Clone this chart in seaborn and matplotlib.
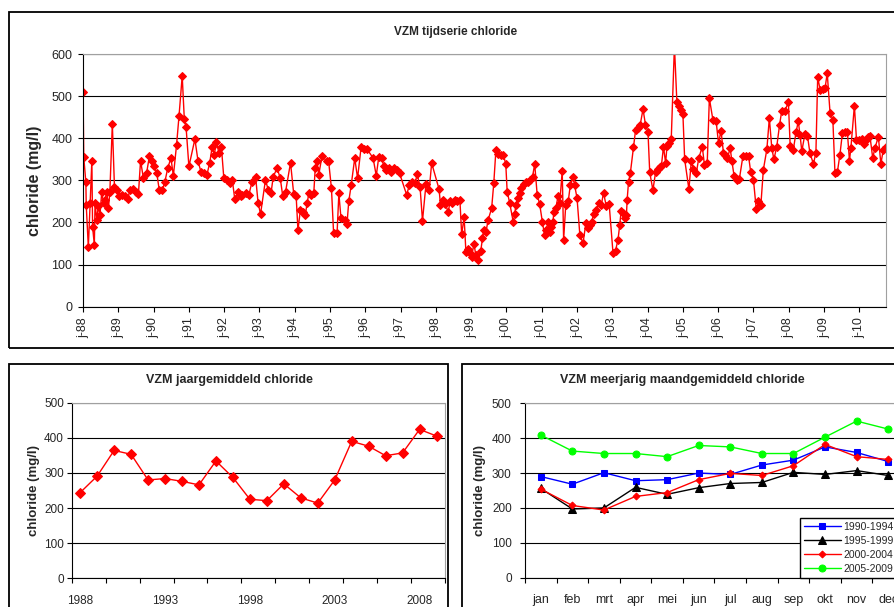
import numpy as np
import pandas as pd
import matplotlib.pyplot as plt
import seaborn as sns
from matplotlib.patches import Rectangle

sns.set_style("white")
plt.rcParams['font.family'] = ['Liberation Sans', 'DejaVu Sans']

# ---- tijdserie: datum (decimaal jaar) en chloride (mg/l) ----
t_serie = [
    1988.00, 1988.02, 1988.08, 1988.09, 1988.15, 1988.20, 1988.25, 1988.27, 1988.32, 1988.34,
    1988.39, 1988.43, 1988.48, 1988.53, 1988.58, 1988.62, 1988.67, 1988.72, 1988.76, 1988.83,
    1988.89, 1988.95, 1989.02, 1989.09, 1989.19, 1989.26, 1989.33, 1989.42, 1989.49, 1989.57,
    1989.63, 1989.71, 1989.80, 1989.88, 1989.94, 1990.02, 1990.09, 1990.16, 1990.25, 1990.32,
    1990.40, 1990.49, 1990.56, 1990.65, 1990.72, 1990.81, 1990.87, 1990.92, 1991.00, 1991.17,
    1991.26, 1991.34, 1991.43, 1991.51, 1991.59, 1991.66, 1991.72, 1991.78, 1991.85, 1991.92,
    1991.99, 1992.07, 1992.16, 1992.23, 1992.30, 1992.40, 1992.49, 1992.51, 1992.63, 1992.70,
    1992.79, 1992.89, 1992.96, 1993.03, 1993.17, 1993.25, 1993.33, 1993.39, 1993.50, 1993.59,
    1993.66, 1993.74, 1993.88, 1993.97, 1994.04, 1994.09, 1994.16, 1994.24, 1994.30, 1994.35,
    1994.40, 1994.47, 1994.54, 1994.58, 1994.63, 1994.68, 1994.77, 1994.90, 1994.96, 1995.04,
    1995.10, 1995.20, 1995.25, 1995.31, 1995.41, 1995.48, 1995.53, 1995.60, 1995.70, 1995.78,
    1995.88, 1995.95, 1996.05, 1996.22, 1996.31, 1996.38, 1996.47, 1996.52, 1996.58, 1996.66,
    1996.74, 1996.80, 1996.90, 1996.97, 1997.17, 1997.25, 1997.31, 1997.41, 1997.47, 1997.55,
    1997.62, 1997.72, 1997.81, 1997.88, 1998.09, 1998.13, 1998.21, 1998.27, 1998.35, 1998.40,
    1998.47, 1998.54, 1998.60, 1998.68, 1998.73, 1998.80, 1998.85, 1998.92, 1998.96, 1999.01,
    1999.08, 1999.13, 1999.20, 1999.27, 1999.32, 1999.36, 1999.42, 1999.48, 1999.58, 1999.64,
    1999.70, 1999.76, 1999.84, 1999.91, 1999.98, 2000.02, 2000.09, 2000.19, 2000.24, 2000.26,
    2000.33, 2000.38, 2000.42, 2000.49, 2000.55, 2000.61, 2000.68, 2000.74, 2000.80, 2000.87,
    2000.94, 2001.02, 2001.08, 2001.13, 2001.18, 2001.23, 2001.27, 2001.32, 2001.34, 2001.40,
    2001.46, 2001.51, 2001.58, 2001.62, 2001.68, 2001.75, 2001.81, 2001.89, 2001.93, 2002.00,
    2002.08, 2002.17, 2002.25, 2002.31, 2002.36, 2002.41, 2002.47, 2002.55, 2002.62, 2002.69,
    2002.75, 2002.83, 2002.91, 2003.02, 2003.09, 2003.16, 2003.21, 2003.25, 2003.30, 2003.35,
    2003.40, 2003.42, 2003.46, 2003.51, 2003.60, 2003.66, 2003.73, 2003.79, 2003.87, 2003.94,
    2004.01, 2004.06, 2004.15, 2004.23, 2004.29, 2004.34, 2004.39, 2004.45, 2004.51, 2004.55,
    2004.60, 2004.67, 2004.76, 2004.83, 2004.89, 2004.95, 2005.00, 2005.05, 2005.17, 2005.24,
    2005.30, 2005.38, 2005.45, 2005.55, 2005.61, 2005.69, 2005.75, 2005.85, 2005.94, 2006.01,
    2006.08, 2006.15, 2006.20, 2006.26, 2006.34, 2006.39, 2006.45, 2006.53, 2006.60, 2006.70,
    2006.79, 2006.86, 2006.92, 2007.00, 2007.08, 2007.14, 2007.21, 2007.28, 2007.38, 2007.45,
    2007.52, 2007.58, 2007.66, 2007.74, 2007.80, 2007.88, 2007.99, 2008.04, 2008.13, 2008.21,
    2008.27, 2008.32, 2008.37, 2008.46, 2008.53, 2008.60, 2008.70, 2008.77, 2008.82, 2008.89,
    2008.96, 2009.03, 2009.09, 2009.17, 2009.25, 2009.31, 2009.38, 2009.45, 2009.52, 2009.59,
    2009.66, 2009.72, 2009.76, 2009.86, 2009.92, 2010.00, 2010.07, 2010.13, 2010.19, 2010.25,
    2010.30, 2010.38, 2010.44, 2010.54, 2010.61, 2010.68, 2010.75]
cl_serie = [
    510, 355, 295, 242, 141, 246, 347, 190, 147, 246,
    206, 238, 218, 273, 246, 254, 273, 234, 273, 434,
    285, 277, 262, 265, 262, 255, 277, 279, 273, 268,
    347, 305, 317, 357, 345, 333, 317, 277, 277, 297,
    329, 353, 311, 384, 453, 548, 445, 426, 333, 398,
    345, 321, 317, 313, 342, 380, 361, 392, 365, 380,
    305, 301, 293, 301, 255, 273, 262, 266, 269, 266,
    297, 309, 247, 220, 301, 277, 271, 309, 329, 305,
    262, 273, 342, 268, 262, 182, 230, 226, 218, 246,
    269, 266, 271, 329, 345, 313, 357, 347, 345, 281,
    176, 176, 269, 210, 206, 196, 250, 289, 353, 305,
    379, 374, 374, 353, 311, 355, 353, 334, 325, 329,
    321, 329, 325, 317, 266, 289, 297, 293, 315, 285,
    204, 292, 277, 341, 279, 242, 254, 244, 224, 250,
    246, 254, 252, 254, 172, 212, 131, 136, 127, 119,
    149, 123, 111, 132, 162, 182, 178, 206, 234, 293,
    371, 363, 361, 361, 339, 273, 247, 202, 220, 242,
    258, 269, 281, 292, 295, 297, 301, 309, 339, 266,
    244, 200, 170, 182, 202, 178, 190, 202, 224, 234,
    262, 246, 323, 159, 242, 250, 289, 309, 289, 258,
    170, 151, 198, 186, 194, 200, 220, 230, 246, 242,
    271, 238, 244, 127, 133, 159, 194, 228, 222, 210,
    218, 254, 297, 317, 379, 420, 424, 432, 469, 432,
    416, 319, 277, 321, 327, 331, 334, 380, 341, 382,
    388, 398, 620, 485, 476, 468, 458, 350, 279, 347,
    327, 317, 353, 380, 337, 342, 495, 444, 442, 388,
    418, 365, 361, 353, 376, 345, 311, 301, 303, 357,
    357, 358, 321, 301, 231, 250, 242, 325, 374, 448,
    376, 350, 380, 432, 464, 464, 485, 382, 373, 416,
    440, 408, 369, 411, 406, 365, 339, 366, 545, 515,
    517, 519, 555, 461, 444, 317, 321, 361, 412, 416,
    416, 347, 376, 477, 396, 395, 398, 387, 396, 404,
    406, 353, 376, 404, 339, 373, 380]

# ---- jaargemiddelden ----
jaren = list(range(1988, 2010))
cl_jaar = [244, 291, 364, 353, 280, 284, 276, 266, 334, 287, 225,
           221, 269, 229, 214, 280, 390, 376, 349, 357, 424, 405]

# ---- meerjarig maandgemiddelde ----
maanden = ['jan', 'feb', 'mrt', 'apr', 'mei', 'jun', 'jul', 'aug', 'sep', 'okt', 'nov', 'dec']
cl_1990_1994 = [290, 268, 301, 278, 281, 300, 296, 323, 337, 375, 359, 333]
cl_1995_1999 = [256, 197, 200, 259, 239, 258, 270, 273, 302, 296, 307, 293]
cl_2000_2004 = [254, 207, 194, 233, 244, 281, 299, 293, 321, 382, 347, 339]
cl_2005_2009 = [409, 363, 356, 356, 347, 379, 375, 356, 356, 403, 449, 426]

fig = plt.figure(figsize=(8.94, 6.07), dpi=100)

# kaders rond de grafieken
for x0, y0, w, h in [(0.010, 0.4267, 1.1, 0.5540), (0.0104, -0.1, 0.4907, 0.5), (0.5165, -0.1, 0.6, 0.5)]:
    fig.patches.append(Rectangle((x0, y0), w, h, transform=fig.transFigure,
                                 fill=False, edgecolor='black', linewidth=1.3))


def opmaak(ax, ymax, ystep):
    ax.set_ylim(0, ymax)
    ax.set_yticks(np.arange(0, ymax + 1, ystep))
    ax.yaxis.grid(True, color='black', linewidth=0.8)
    ax.set_axisbelow(True)
    for s in ['top', 'right']:
        ax.spines[s].set_color('#a0a0a0')
    for s in ['left', 'bottom']:
        ax.spines[s].set_color('black')
    ax.set_xlabel('')


#========= tijdserie =========#
ax1 = fig.add_axes([0.0925, 0.4947, 0.8991, 0.4163])
sns.lineplot(x=t_serie, y=cl_serie, ax=ax1, color='#ff0000', marker='D', markersize=4.5,
             markeredgecolor='#ff0000', linewidth=1.0, sort=False, estimator=None)
opmaak(ax1, 600, 100)
ax1.set_xlim(1987.99, 2010.77)
ax1.set_xticks(range(1988, 2011))
ax1.set_xticklabels([f"j-{j % 100:02d}" for j in range(1988, 2011)], rotation=90)
ax1.tick_params(axis='both', direction='out', length=3.5, color='black', labelsize=9,
                bottom=True, left=True, pad=4)
ax1.set_ylabel('chloride (mg/l)', fontsize=11.5, fontweight='bold', labelpad=7)
fig.text(456 / 894, 1 - 32 / 607, 'VZM tijdserie chloride', ha='center', va='center',
         fontsize=8.5, fontweight='bold')

#========= jaargemiddeld =========#
ax2 = fig.add_axes([0.0802, 0.0473, 0.4176, 0.2893])
sns.lineplot(x=np.arange(len(jaren)), y=cl_jaar, ax=ax2, color='#ff0000', marker='D',
             markersize=5, markeredgecolor='#ff0000', linewidth=1.0)
opmaak(ax2, 500, 100)
ax2.set_xlim(-0.5, len(jaren) - 0.5)
ax2.set_xticks(np.arange(-0.5, len(jaren), 2))
ax2.set_xticklabels([])
ax2.set_xticks(np.arange(0, len(jaren), 5), minor=True)
ax2.set_xticklabels([str(jaren[i]) for i in range(0, len(jaren), 5)], minor=True)
ax2.tick_params(axis='both', which='major', direction='out', length=3.5, color='black',
                labelsize=8.5, bottom=True, left=True, pad=2)
ax2.tick_params(axis='x', which='minor', length=0, labelsize=8.5, pad=12, bottom=True)
ax2.set_ylabel('chloride (mg/l)', fontsize=9.5, fontweight='bold', labelpad=3)
fig.text(229 / 894, 1 - 380 / 607, 'VZM jaargemiddeld chloride', ha='center', va='center',
         fontsize=9, fontweight='bold')

#========= meerjarig maandgemiddeld =========#
ax3 = fig.add_axes([0.5872, 0.0483, 0.424, 0.2873])
pos = np.arange(len(maanden))
reeksen = [('1990-1994', cl_1990_1994, '#0000ff', 's', 5),
           ('1995-1999', cl_1995_1999, 'black', '^', 5.5),
           ('2000-2004', cl_2000_2004, '#ff0000', 'D', 3.5),
           ('2005-2009', cl_2005_2009, '#00ff00', 'o', 5)]
for naam, waarden, kleur, mk, ms in reeksen:
    sns.lineplot(x=pos, y=waarden, ax=ax3, color=kleur, marker=mk, markersize=ms,
                 markeredgecolor=kleur, linewidth=1.0, label=naam)
opmaak(ax3, 500, 100)
ax3.set_xlim(-0.5, len(maanden) - 0.5)
ax3.set_xticks(np.arange(-0.5, len(maanden), 1))
ax3.set_xticklabels([])
ax3.set_xticks(pos, minor=True)
ax3.set_xticklabels(maanden, minor=True)
ax3.tick_params(axis='both', which='major', direction='out', length=3.5, color='black',
                labelsize=8.5, bottom=True, left=True, pad=6)
ax3.tick_params(axis='x', which='minor', length=0, labelsize=9, pad=12, bottom=True)
ax3.set_ylabel('chloride (mg/l)', fontsize=9.5, fontweight='bold', labelpad=4)
ax3.legend(loc='lower left', bbox_to_anchor=(0.7256, 0.0), frameon=True, fancybox=False,
           edgecolor='black', fontsize=7.5, handlelength=3.6, handletextpad=0.2,
           borderaxespad=0, labelspacing=0.4, borderpad=0.35, framealpha=1)
ax3.get_legend().get_frame().set_linewidth(1.0)
fig.text(682 / 894, 1 - 380 / 607, 'VZM meerjarig maandgemiddeld chloride', ha='center',
         va='center', fontsize=9, fontweight='bold')

plt.savefig('out.png', dpi=100)
